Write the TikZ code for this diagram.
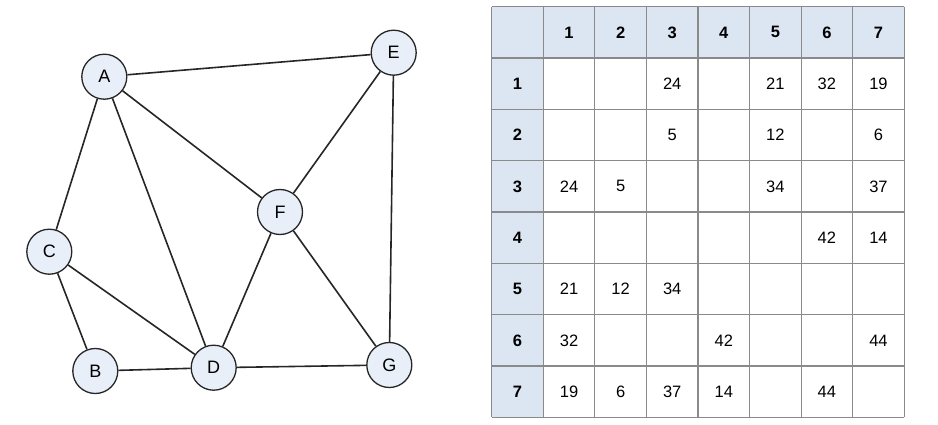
\documentclass[tikz,border=0pt]{standalone}
\usepackage{fontspec}
\setmainfont{Liberation Sans}
\definecolor{nodefill}{HTML}{E9EFF8}
\definecolor{hdrfill}{HTML}{DCE6F2}
\definecolor{gridcol}{HTML}{8A8A8A}
\definecolor{edgecol}{HTML}{262626}
\begin{document}
\begin{tikzpicture}[x=1pt,y=-1pt,
  vert/.style={circle,draw=edgecol,fill=nodefill,line width=1.3pt,minimum size=45pt,inner sep=0pt,font=\fontsize{18}{21}\selectfont},
  edge/.style={draw=edgecol,line width=1.6pt},
  cell/.style={font=\fontsize{16.5}{19}\selectfont},
  hcell/.style={font=\fontsize{16.5}{19}\selectfont\bfseries}]
\useasboundingbox (0,0) rectangle (938,425);
% graph
\node[vert] (A) at (104.3,76.7) {A};
\node[vert] (E) at (393.7,52.7) {E};
\node[vert] (F) at (280,212) {F};
\node[vert] (C) at (49.3,251.7) {C};
\node[vert] (B) at (95.3,371) {B};
\node[vert] (D) at (213.7,367.7) {D};
\node[vert] (G) at (389.3,365) {G};
\foreach \a/\b in {A/E,A/F,A/D,A/C,E/F,E/G,F/D,F/G,C/D,C/B,B/D,D/G}
  \draw[edge] (\a) -- (\b);
% table
\def\tx{491.7}\def\ty{6.7}\def\cw{51.57}\def\rh{51.33}
\fill[hdrfill] (\tx,\ty) rectangle (\tx+8*\cw,\ty+\rh);
\fill[hdrfill] (\tx,\ty) rectangle (\tx+\cw,\ty+8*\rh);
\foreach \i in {0,...,8} {
  \draw[gridcol,line width=1.2pt] (\tx+\i*\cw,\ty) -- (\tx+\i*\cw,\ty+8*\rh);
  \draw[gridcol,line width=1.2pt] (\tx,\ty+\i*\rh) -- (\tx+8*\cw,\ty+\i*\rh);
}
\foreach \i in {1,...,7} {
  \node[hcell] (h\i) at (\tx+\i*\cw+0.5*\cw,\ty+0.5*\rh) {\i};
  \node[hcell] (r\i) at (\tx+0.5*\cw,\ty+\i*\rh+0.5*\rh) {\i};
}
\foreach \r/\c/\v in {1/3/24,1/5/21,1/6/32,1/7/19,
  2/3/5,2/5/12,2/7/6,
  3/1/24,3/2/5,3/5/34,3/7/37,
  4/6/42,4/7/14,
  5/1/21,5/2/12,5/3/34,
  6/1/32,6/4/42,6/7/44,
  7/1/19,7/2/6,7/3/37,7/4/14,7/6/44}
  \node[cell] (c\r-\c) at (\tx+\c*\cw+0.5*\cw,\ty+\r*\rh+0.5*\rh) {\v};
\end{tikzpicture}
\end{document}
